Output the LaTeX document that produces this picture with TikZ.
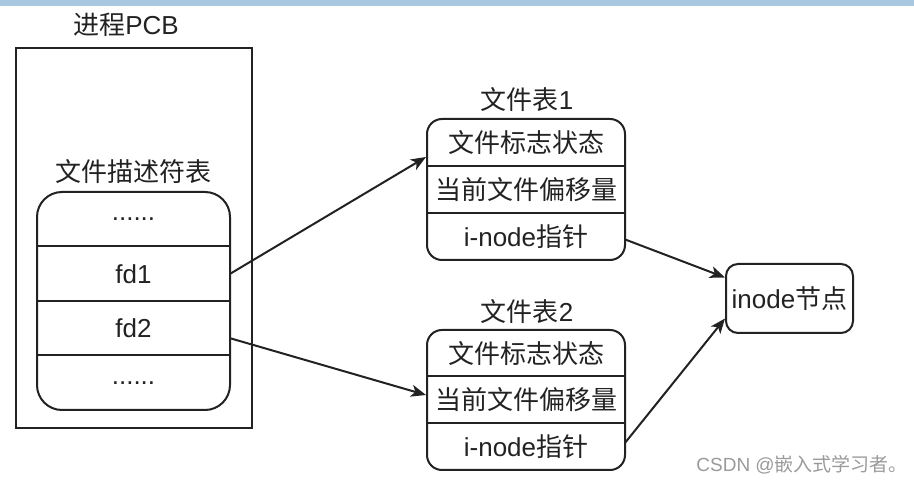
\documentclass[tikz,border=0pt]{standalone}
\usepackage{fontspec}
\setmainfont{Liberation Sans}
\newfontfamily\cjk{Noto Sans CJK SC}
\usetikzlibrary{arrows.meta}
\definecolor{topbar}{HTML}{A8C8E2}
\definecolor{wm}{HTML}{9A9A9A}
\definecolor{ln}{HTML}{222222}
\begin{document}
\begin{tikzpicture}[x=1pt,y=-1pt,
  box/.style={draw=ln, line width=2pt},
  tbl/.style={draw=ln, line width=2pt, rounded corners=15pt, inner sep=0pt},
  txt/.style={font=\fontsize{26}{30}\selectfont, inner sep=0pt, text=ln},
  fdrow/.style={txt, minimum width=193pt, minimum height=54.5pt},
  trow/.style={txt, minimum width=198pt},
  sep/.style={draw=ln, line width=2pt},
  arr/.style={draw=ln, -{Stealth[length=15pt,width=12pt,inset=4pt]}, line width=2pt}]
\useasboundingbox (0,0) rectangle (914,486);
\fill[topbar] (0,0) rectangle (914,6);

% process PCB
\node[txt] (pcbt) at (126,25) {{\cjk 进程}PCB};
\node[box, minimum width=236pt, minimum height=380pt, inner sep=0pt] (pcb) at (134,238) {};
\node[txt] (fdtt) at (133.5,172) {\cjk 文件描述符表};
\node[tbl, rounded corners=25pt, minimum width=193pt, minimum height=218pt] (fdt) at (133.5,301) {};
\node[fdrow] (r0) at (133.5,219.25) {......};
\node[fdrow] (fd1) at (133.5,273.75) {fd1};
\node[fdrow] (fd2) at (133.5,328.25) {fd2};
\node[fdrow] (r3) at (133.5,382.75) {......};
\draw[sep] (fd1.north west) -- (fd1.north east);
\draw[sep] (fd2.north west) -- (fd2.north east);
\draw[sep] (r3.north west) -- (r3.north east);

% file table 1
\node[txt] (t1t) at (527,100) {{\cjk 文件表}1};
\node[tbl, minimum width=198pt, minimum height=141pt] (t1) at (526,189.5) {};
\node[trow, minimum height=47pt] (t1r1) at (526,142.5) {\cjk 文件标志状态};
\node[trow, minimum height=47pt] (t1r2) at (526,189.5) {\cjk 当前文件偏移量};
\node[trow, minimum height=47pt] (t1r3) at (526,236.5) {i-node{\cjk 指针}};
\draw[sep] (t1r2.north west) -- (t1r2.north east);
\draw[sep] (t1r3.north west) -- (t1r3.north east);

% file table 2
\node[txt] (t2t) at (527,312) {{\cjk 文件表}2};
\node[tbl, minimum width=198pt, minimum height=140pt] (t2) at (526,400) {};
\node[trow, minimum height=46.67pt] (t2r1) at (526,353.33) {\cjk 文件标志状态};
\node[trow, minimum height=46.67pt] (t2r2) at (526,400) {\cjk 当前文件偏移量};
\node[trow, minimum height=46.67pt] (t2r3) at (526,446.67) {i-node{\cjk 指针}};
\draw[sep] (t2r2.north west) -- (t2r2.north east);
\draw[sep] (t2r3.north west) -- (t2r3.north east);

% inode
\node[tbl, rounded corners=12pt, minimum width=127pt, minimum height=69pt, font=\fontsize{26}{30}\selectfont, text=ln] (inode) at (789.5,298.5) {inode{\cjk 节点}};

% arrows
\draw[arr] (fd1.east) -- (t1.162);
\draw[arr] ([yshift=-10pt]fd2.east) -- ([yshift=5pt]t2.west);
\draw[arr] ([yshift=-3pt]t1r3.east) -- ([yshift=21pt]inode.west);
\draw[arr] ([yshift=4pt]t2r3.east) -- ([yshift=-20pt]inode.west);

% watermark
\node[anchor=east, text=wm, font=\fontsize{19}{22}\selectfont, inner sep=0pt] (wmk) at (908,465) {CSDN @{\cjk 嵌入式学习者。}};
\end{tikzpicture}
\end{document}
